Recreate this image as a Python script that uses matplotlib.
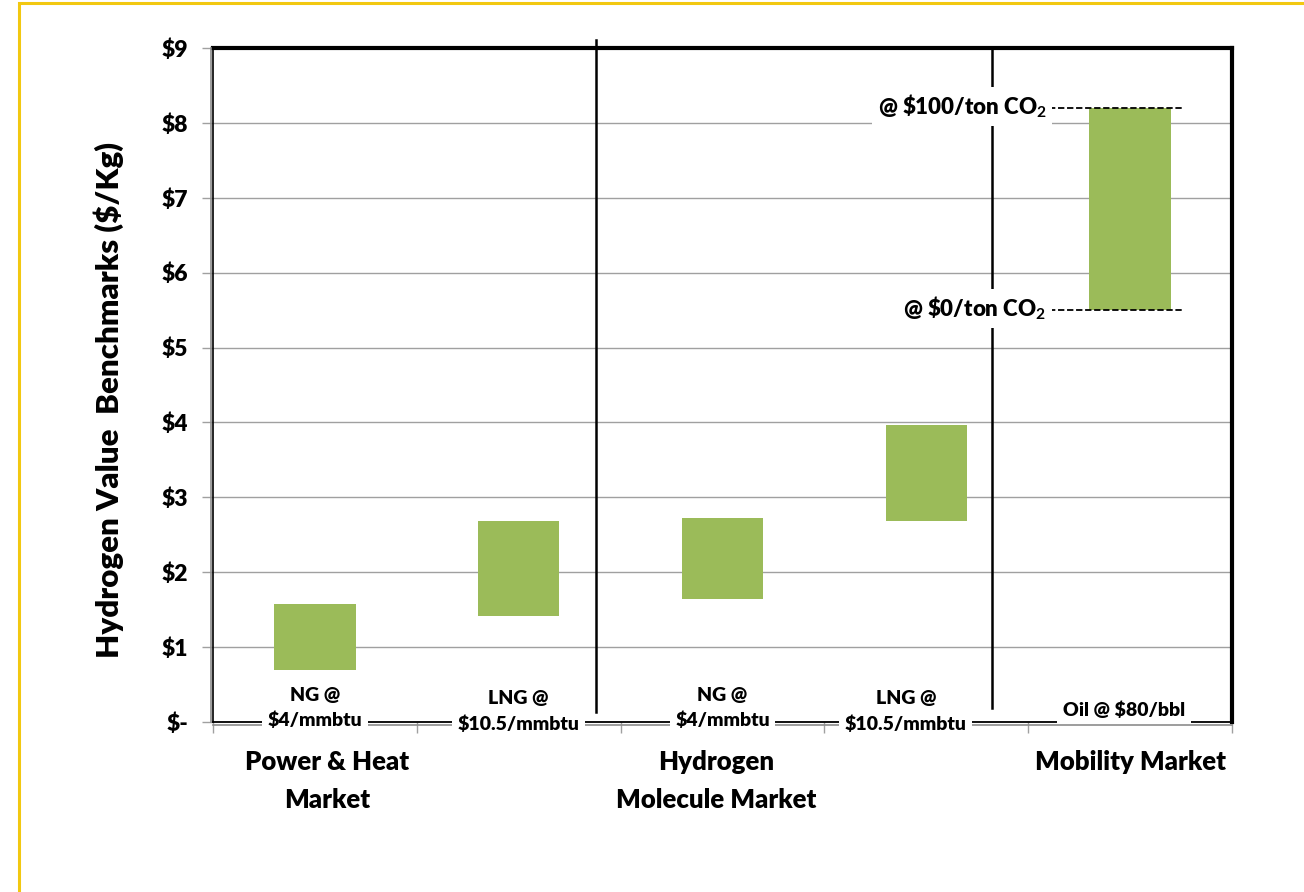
import matplotlib.pyplot as plt
from matplotlib.patches import Rectangle
import matplotlib.transforms as mtransforms

plt.rcParams['font.family'] = ['Lato', 'DejaVu Sans']
plt.rcParams['font.weight'] = 'bold'
plt.rcParams['mathtext.fontset'] = 'custom'
plt.rcParams['mathtext.rm'] = 'Lato:bold'
plt.rcParams['mathtext.bf'] = 'Lato:bold'

# value ranges ($/kg) for each benchmark
fuel_labels = ["NG @\n$4/mmbtu", "LNG @\n$10.5/mmbtu", "NG @\n$4/mmbtu",
               "LNG @\n$10.5/mmbtu", "Oil @ $80/bbl"]
low = [0.69, 1.41, 1.64, 2.68, 5.5]
high = [1.58, 2.68, 2.72, 3.97, 8.2]
markets = ["Power & Heat\nMarket", "Hydrogen\nMolecule Market", "Mobility Market"]
market_pos = [0.06, 1.97, 4.0]
dividers = [1.379, 3.322]
co2_labels = [r"@ \$100/ton CO$_\mathbf{2}$", r"@ \$0/ton CO$_\mathbf{2}$"]
co2_values = [high[4], low[4]]

green = '#9BBB59'

fig = plt.figure(figsize=(13.04, 8.92), dpi=100)
ax = fig.add_axes([213/1304, 1 - 722/892, 1019/1304, 674/892])

x = range(len(low))
ax.bar(x, [h - l for h, l in zip(high, low)], bottom=low, width=0.4,
       color=green, zorder=3)

ax.set_xlim(-0.5, 4.5)
ax.set_ylim(0, 9)
ax.set_yticks(range(10))
ax.set_yticklabels(["$-"] + ["$%d" % v for v in range(1, 10)], fontsize=16.5,
                   fontweight='heavy')
ax.set_xticks([i - 0.5 for i in range(6)])
ax.set_xticklabels([])
ax.tick_params(axis='y', length=8, color='#A0A0A0', width=1, pad=10)
ax.tick_params(axis='x', length=8, color='#A0A0A0', width=1, direction='out')
ax.grid(axis='y', color='#A0A0A0', lw=1, zorder=0)

ax.spines['top'].set_linewidth(3)
ax.spines['right'].set_linewidth(3)
ax.spines['left'].set_linewidth(1.2)
ax.spines['bottom'].set_linewidth(1.3)
for s in ['left', 'bottom']:
    ax.spines[s].set_zorder(4)

# grey companion lines next to the left and bottom axes
off_l = mtransforms.offset_copy(ax.transAxes, fig=fig, x=-2, y=0, units='dots')
ax.plot([0, 0], [0, 1], color='#8C8C8C', lw=1.2, transform=off_l, clip_on=False, zorder=4)
off_b = mtransforms.offset_copy(ax.transAxes, fig=fig, x=0, y=-3, units='dots')
ax.plot([0, 1], [0, 0], color='#8C8C8C', lw=1.2, transform=off_b, clip_on=False, zorder=4)

ax.set_ylabel("Hydrogen Value  Benchmarks ($/Kg)", fontsize=22.5, fontweight='heavy')
ax.yaxis.set_label_coords(-0.087, 0.478)

# market dividers
ax.plot([dividers[0]] * 2, [0.13, 9.11], color='black', lw=1.8, clip_on=False, zorder=5)
ax.plot([dividers[1]] * 2, [0.19, 9.0], color='black', lw=1.8, clip_on=False, zorder=5)

# fuel labels sit on the axis line, masking it
for i, lab in enumerate(fuel_labels):
    xs = [0.0, 0.0, 0.0, -0.1, -0.03][i]
    ys = [0.19, 0.14, 0.19, 0.14, 0.16][i]
    ax.text(i + xs, ys, lab, ha='center', va='center', fontsize=14,
            fontweight='heavy', linespacing=1.55, zorder=6, clip_on=False,
            bbox=dict(facecolor='white', edgecolor='none', pad=4))

for pos, lab in zip(market_pos, markets):
    ax.text(pos, -0.37, lab, ha='center', va='top', fontsize=18.5,
            fontweight='heavy', linespacing=1.7, clip_on=False)

# carbon price annotations on the mobility bar
for lab, val in zip(co2_labels, co2_values):
    ax.plot([3.6, 4.26], [val, val], color='black', lw=1.3, ls=(0, (3.5, 1.5)),
            zorder=5, clip_on=False)
    ax.text(3.59, val + 0.02, lab, ha='right', va='center', fontsize=16,
            fontweight='heavy', zorder=6,
            bbox=dict(facecolor='white', edgecolor='none', pad=4))

# chart frame
frame = Rectangle((19/1304, -0.1), 1.2, 1 - 3/892 + 0.1, transform=fig.transFigure,
                  fill=False, edgecolor='#F2C811', lw=2.2, zorder=0)
fig.patches.append(frame)

fig.savefig("out.png", dpi=100)
